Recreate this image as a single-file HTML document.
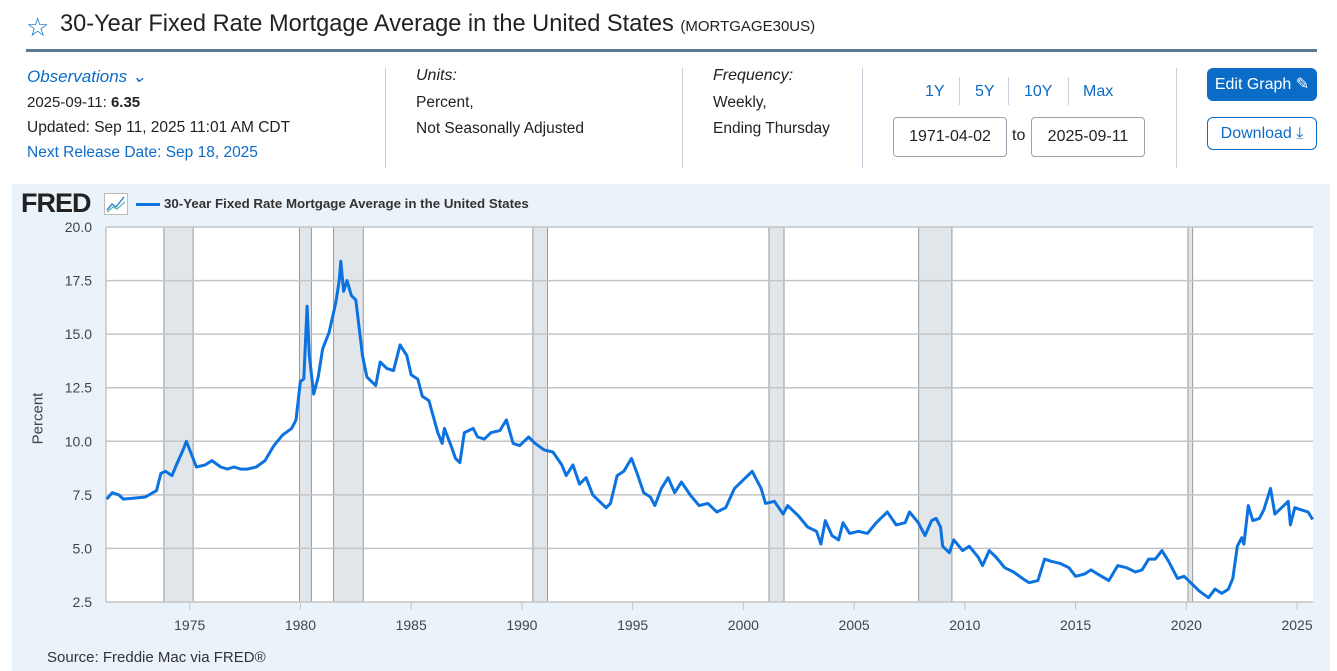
<!DOCTYPE html>
<html><head><meta charset="utf-8">
<style>
*{box-sizing:border-box;margin:0;padding:0}
body{width:1337px;height:671px;overflow:hidden;background:#fff;font-family:"Liberation Sans",sans-serif;color:#222;position:relative}
.a{position:absolute}
.blue{color:#0b6cc7}
.sep{position:absolute;width:1px;background:#c8d2dc;top:68px;height:100px}
.btnp{position:absolute;background:#0b6cc7;color:#fff;border-radius:6px;font-size:16px;text-align:center}
.btno{position:absolute;border:1px solid #0b6cc7;color:#0b6cc7;border-radius:6px;font-size:16px;text-align:center;background:#fff}
.inp{position:absolute;border:1px solid #9aa4ae;border-radius:4px;font-size:16px;text-align:center;line-height:38px;height:40px}
</style></head><body>
<div class="a" style="left:26px;top:12px;font-size:26px;color:#0b6cc7">☆</div>
<div class="a" style="left:60px;top:11px;font-size:23.6px;color:#222">30-Year Fixed Rate Mortgage Average in the United States <span style="font-size:15px">(MORTGAGE30US)</span></div>
<div class="a" style="left:26px;top:49px;width:1291px;height:3px;background:#5d7a93"></div>

<div class="a blue" style="left:27px;top:67px;font-size:17px;font-style:italic">Observations ⌄</div>
<div class="a" style="left:27px;top:94px;font-size:15px">2025-09-11: <b>6.35</b></div>
<div class="a" style="left:27px;top:119px;font-size:15.5px">Updated: Sep 11, 2025 11:01 AM CDT</div>
<div class="a blue" style="left:27px;top:144px;font-size:15.5px">Next Release Date: Sep 18, 2025</div>
<div class="sep" style="left:385px"></div>
<div class="a" style="left:416px;top:67px;font-size:16px;font-style:italic">Units:</div>
<div class="a" style="left:416px;top:90px;font-size:15.5px;line-height:26px">Percent,<br>Not Seasonally Adjusted</div>
<div class="sep" style="left:682px"></div>
<div class="a" style="left:713px;top:67px;font-size:16px;font-style:italic">Frequency:</div>
<div class="a" style="left:713px;top:90px;font-size:15.5px;line-height:26px">Weekly,<br>Ending Thursday</div>
<div class="sep" style="left:862px"></div>
<div class="a blue" style="left:925px;top:83px;font-size:16px">1Y</div>
<div class="a" style="left:959px;top:77px;width:1px;height:28px;background:#c8d2dc"></div>
<div class="a blue" style="left:975px;top:83px;font-size:16px">5Y</div>
<div class="a" style="left:1008px;top:77px;width:1px;height:28px;background:#c8d2dc"></div>
<div class="a blue" style="left:1024px;top:83px;font-size:16px">10Y</div>
<div class="a" style="left:1068px;top:77px;width:1px;height:28px;background:#c8d2dc"></div>
<div class="a blue" style="left:1083px;top:83px;font-size:16px">Max</div>
<div class="inp" style="left:893px;top:117px;width:114px">1971-04-02</div>
<div class="a" style="left:1012px;top:127px;font-size:16px">to</div>
<div class="inp" style="left:1031px;top:117px;width:114px">2025-09-11</div>
<div class="sep" style="left:1176px"></div>
<div class="btnp" style="left:1207px;top:68px;width:110px;height:33px;line-height:33px">Edit Graph ✎</div>
<div class="btno" style="left:1207px;top:117px;width:110px;height:33px;line-height:31px">Download ⤓</div>

<div class="a" style="left:12px;top:184px;width:1318px;height:487px;background:#eaf2fa"></div>
<div class="a" style="left:21px;top:188px;font-size:27px;font-weight:bold;letter-spacing:-1px;color:#222">FRED</div>
<svg class="a" style="left:104px;top:193px" width="24" height="22"><rect x="0.5" y="0.5" width="23" height="21" fill="#fff" stroke="#bbb"/><polyline points="3,17 8,11 12,14 20,4" fill="none" stroke="#3a8ad0" stroke-width="1.5"/><polyline points="3,19 9,14 13,16 21,9" fill="none" stroke="#5cb8a0" stroke-width="1.2"/></svg>
<div class="a" style="left:136px;top:203px;width:24px;height:3px;background:#0b72e0"></div>
<div class="a" style="left:164px;top:196px;font-size:13.3px;font-weight:bold;color:#333">30-Year Fixed Rate Mortgage Average in the United States</div>
<div class="a" style="left:47px;top:649px;font-size:15px;color:#333">Source: Freddie Mac via FRED®</div>
<div class="a" style="left:8px;top:410px;font-size:15px;color:#444;transform:rotate(-90deg);transform-origin:center;width:60px;text-align:center">Percent</div>

<svg id="chart" class="a" style="left:0;top:0" width="1337" height="671"></svg>
<script>
const recessions=[[1973.88,1975.2],[1980.0,1980.54],[1981.54,1982.88],[1990.54,1991.2],[2001.2,2001.88],[2007.96,2009.46],[2020.12,2020.33]];
const yTicks=[2.5,5.0,7.5,10.0,12.5,15.0,17.5,20.0];
const xTicks=[1975,1980,1985,1990,1995,2000,2005,2010,2015,2020,2025];
const years=[1971.25,1971.5,1971.8,1972.0,1972.5,1973.0,1973.5,1973.7,1973.9,1974.2,1974.4,1974.7,1974.85,1975.0,1975.3,1975.7,1976.0,1976.4,1976.7,1977.0,1977.3,1977.6,1978.0,1978.4,1978.8,1979.2,1979.6,1979.8,1980.0,1980.15,1980.3,1980.4,1980.6,1980.8,1981.0,1981.3,1981.6,1981.75,1981.82,1981.95,1982.1,1982.3,1982.5,1982.8,1983.0,1983.4,1983.6,1983.9,1984.2,1984.5,1984.8,1985.0,1985.3,1985.5,1985.8,1986.2,1986.4,1986.5,1986.8,1987.0,1987.2,1987.4,1987.8,1988.0,1988.3,1988.6,1989.0,1989.3,1989.6,1989.9,1990.3,1990.6,1991.0,1991.4,1991.8,1992.0,1992.3,1992.6,1992.9,1993.2,1993.5,1993.8,1994.0,1994.3,1994.6,1994.95,1995.2,1995.5,1995.8,1996.0,1996.3,1996.6,1996.9,1997.2,1997.6,1998.0,1998.4,1998.8,1999.2,1999.6,2000.1,2000.4,2000.8,2001.0,2001.4,2001.8,2002.0,2002.5,2002.9,2003.3,2003.5,2003.7,2004.0,2004.3,2004.5,2004.8,2005.2,2005.6,2006.0,2006.5,2006.9,2007.3,2007.5,2007.9,2008.2,2008.5,2008.7,2008.9,2009.0,2009.3,2009.5,2009.9,2010.2,2010.6,2010.8,2011.1,2011.4,2011.8,2012.2,2012.6,2012.9,2013.3,2013.6,2013.9,2014.3,2014.7,2015.0,2015.4,2015.7,2016.0,2016.5,2016.9,2017.3,2017.7,2018.0,2018.3,2018.6,2018.9,2019.2,2019.6,2019.9,2020.3,2020.6,2021.0,2021.3,2021.6,2021.9,2022.1,2022.3,2022.5,2022.6,2022.8,2023.0,2023.3,2023.5,2023.8,2024.0,2024.3,2024.6,2024.7,2024.9,2025.2,2025.5,2025.7];
const rates=[7.3,7.6,7.5,7.3,7.35,7.4,7.7,8.5,8.6,8.4,8.9,9.6,10.0,9.6,8.8,8.9,9.1,8.8,8.7,8.8,8.7,8.7,8.8,9.1,9.8,10.3,10.6,11.0,12.8,12.9,16.3,14.0,12.2,13.0,14.3,15.1,16.5,17.5,18.4,17.0,17.5,16.8,16.6,14.0,13.0,12.6,13.7,13.4,13.3,14.5,14.0,13.1,12.9,12.1,11.9,10.4,9.9,10.6,9.8,9.2,9.0,10.4,10.6,10.2,10.1,10.4,10.5,11.0,9.9,9.8,10.2,9.9,9.6,9.5,8.9,8.4,8.9,8.0,8.3,7.5,7.2,6.9,7.1,8.4,8.6,9.2,8.5,7.6,7.4,7.0,7.8,8.3,7.6,8.1,7.5,7.0,7.1,6.7,6.9,7.8,8.3,8.6,7.8,7.1,7.2,6.6,7.0,6.5,6.0,5.8,5.2,6.3,5.6,5.4,6.2,5.7,5.8,5.7,6.2,6.7,6.1,6.2,6.7,6.2,5.6,6.3,6.4,6.0,5.1,4.8,5.4,4.9,5.1,4.6,4.2,4.9,4.6,4.1,3.9,3.6,3.4,3.5,4.5,4.4,4.3,4.1,3.7,3.8,4.0,3.8,3.5,4.2,4.1,3.9,4.0,4.5,4.5,4.9,4.4,3.6,3.7,3.3,3.0,2.7,3.1,2.9,3.1,3.6,5.1,5.5,5.2,7.0,6.3,6.4,6.8,7.8,6.6,6.9,7.2,6.1,6.9,6.8,6.7,6.35];
const X0=106,X1=1313,Y0=602,Y1=227,T0=1971.22,T1=2025.72,V0=2.5,V1=20;
const xs=t=>X0+(t-T0)/(T1-T0)*(X1-X0);
const ys=v=>Y0-(v-V0)/(V1-V0)*(Y0-Y1);
const NS='http://www.w3.org/2000/svg';
const svg=document.getElementById('chart');
function mk(tag,attrs){const e=document.createElementNS(NS,tag);for(const k in attrs)e.setAttribute(k,attrs[k]);svg.appendChild(e);return e;}
const bg=mk('rect',{x:X0,y:Y1,width:X1-X0,height:Y0-Y1,fill:'#fff'});


recessions.forEach(r=>{
  const e=mk('rect',{x:xs(r[0])-1,y:Y1,width:xs(r[1])-xs(r[0]),height:Y0-Y1,fill:'#e1e6eb',stroke:'#999','stroke-width':1});
  
  
});
yTicks.forEach(v=>{
  const l=mk('line',{x1:X0,x2:X1,y1:ys(v),y2:ys(v),stroke:'#c4c4c4','stroke-width':1.5});
  
  
  const t=mk('text',{x:92,y:ys(v)+5,'text-anchor':'end','font-size':14,fill:'#444','font-family':'Liberation Sans, sans-serif'});
  t.textContent=v.toFixed(1);
  
  
});
const ax=mk('line',{x1:X0,x2:X0,y1:Y1,y2:Y0,stroke:'#c4c4c4','stroke-width':1.5});


xTicks.forEach(y=>{
  const tk=mk('line',{x1:xs(y),x2:xs(y),y1:Y0,y2:Y0+8,stroke:'#c4c4c4'});
  
  
  const t=mk('text',{x:xs(y),y:630,'text-anchor':'middle','font-size':14,fill:'#444','font-family':'Liberation Sans, sans-serif'});
  t.textContent=y;
  
  
});
const pts=years.map((t,i)=>xs(t).toFixed(1)+','+ys(rates[i]).toFixed(1)).join(' ');
const line=mk('polyline',{points:pts,fill:'none',stroke:'#0b72e0','stroke-width':3,'stroke-linejoin':'round'});


</script>
</body></html>
